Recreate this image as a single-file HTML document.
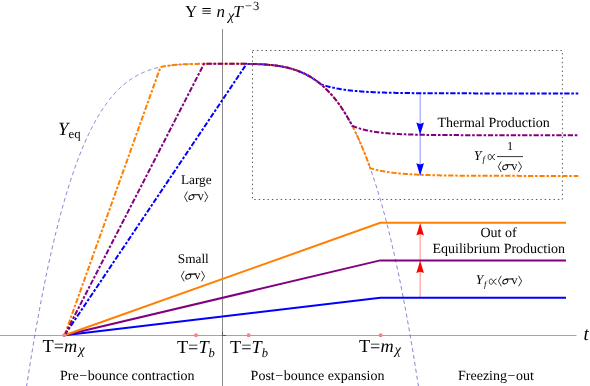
<!DOCTYPE html>
<html><head><meta charset="utf-8"><style>
html,body{margin:0;padding:0;background:#fff;}
svg{display:block;font-family:"Liberation Serif",serif;}
text{fill:#000;text-rendering:geometricPrecision;}
</style></head><body>
<svg width="590" height="386" viewBox="0 0 590 386">
<rect width="590" height="386" fill="#fff"/>
<line x1="0" y1="335.5" x2="576.5" y2="335.5" stroke="#a4a4a4" stroke-width="1"/>
<line x1="222.5" y1="29" x2="222.5" y2="386" stroke="#8c8c8c" stroke-width="1"/>
<path d="M222.5,332 V335.5 H226" fill="none" stroke="#555" stroke-width="1"/>
<path d="M26.50,387.00 L27.00,383.71 L27.50,380.45 L28.00,377.22 L28.50,374.01 L29.00,370.82 L29.50,367.66 L30.00,364.52 L30.50,361.41 L31.00,358.32 L31.50,355.26 L32.00,352.22 L32.50,349.20 L33.00,346.21 L33.50,343.24 L34.00,340.30 L34.50,337.37 L35.00,334.48 L35.50,331.60 L36.00,328.75 L36.50,325.92 L37.00,323.11 L37.50,320.33 L38.00,317.56 L38.50,314.82 L39.00,312.11 L39.50,309.41 L40.00,306.74 L40.50,304.09 L41.00,301.46 L41.50,298.85 L42.00,296.26 L42.50,293.70 L43.00,291.15 L43.50,288.63 L44.00,286.13 L44.50,283.65 L45.00,281.19 L45.50,278.75 L46.00,276.33 L46.50,273.93 L47.00,271.56 L47.50,269.20 L48.00,266.86 L48.50,264.54 L49.00,262.25 L49.50,259.97 L50.00,257.71 L50.50,255.47 L51.00,253.25 L51.50,251.05 L52.00,248.87 L52.50,246.71 L53.00,244.57 L53.50,242.45 L54.00,240.34 L54.50,238.25 L55.00,236.19 L55.50,234.14 L56.00,232.11 L56.50,230.09 L57.00,228.10 L57.50,226.12 L58.00,224.16 L58.50,222.22 L59.00,220.30 L59.50,218.39 L60.00,216.51 L60.50,214.64 L61.00,212.78 L61.50,210.95 L62.00,209.13 L62.50,207.32 L63.00,205.54 L63.50,203.77 L64.00,202.02 L64.50,200.28 L65.00,198.56 L65.50,196.86 L66.00,195.17 L66.50,193.50 L67.00,191.85 L67.50,190.21 L68.00,188.58 L68.50,186.98 L69.00,185.38 L69.50,183.81 L70.00,182.25 L70.50,180.70 L71.00,179.17 L71.50,177.65 L72.00,176.15 L72.50,174.67 L73.00,173.20 L73.50,171.74 L74.00,170.30 L74.50,168.87 L75.00,167.46 L75.50,166.06 L76.00,164.68 L76.50,163.31 L77.00,161.95 L77.50,160.61 L78.00,159.28 L78.50,157.97 L79.00,156.66 L79.50,155.38 L80.00,154.10 L80.50,152.84 L81.00,151.60 L81.50,150.36 L82.00,149.14 L82.50,147.93 L83.00,146.74 L83.50,145.55 L84.00,144.38 L84.50,143.23 L85.00,142.08 L85.50,140.95 L86.00,139.83 L86.50,138.72 L87.00,137.62 L87.50,136.54 L88.00,135.47 L88.50,134.41 L89.00,133.36 L89.50,132.33 L90.00,131.30 L90.50,130.29 L91.00,129.29 L91.50,128.30 L92.00,127.32 L92.50,126.35 L93.00,125.39 L93.50,124.45 L94.00,123.51 L94.50,122.59 L95.00,121.67 L95.50,120.77 L96.00,119.88 L96.50,119.00 L97.00,118.13 L97.50,117.27 L98.00,116.42 L98.50,115.58 L99.00,114.75 L99.50,113.93 L100.00,113.12 L100.50,112.32 L101.00,111.53 L101.50,110.74 L102.00,109.97 L102.50,109.21 L103.00,108.46 L103.50,107.72 L104.00,106.98 L104.50,106.26 L105.00,105.54 L105.50,104.84 L106.00,104.14 L106.50,103.45 L107.00,102.77 L107.50,102.10 L108.00,101.44 L108.50,100.79 L109.00,100.14 L109.50,99.51 L110.00,98.88 L110.50,98.26 L111.00,97.65 L111.50,97.05 L112.00,96.45 L112.50,95.86 L113.00,95.28 L113.50,94.71 L114.00,94.15 L114.50,93.59 L115.00,93.05 L115.50,92.51 L116.00,91.97 L116.50,91.45 L117.00,90.93 L117.50,90.42 L118.00,89.92 L118.50,89.42 L119.00,88.93 L119.50,88.45 L120.00,87.97 L120.50,87.51 L121.00,87.04 L121.50,86.59 L122.00,86.14 L122.50,85.70 L123.00,85.27 L123.50,84.84 L124.00,84.42 L124.50,84.00 L125.00,83.59 L125.50,83.19 L126.00,82.79 L126.50,82.40 L127.00,82.02 L127.50,81.64 L128.00,81.27 L128.50,80.90 L129.00,80.54 L129.50,80.18 L130.00,79.83 L130.50,79.49 L131.00,79.15 L131.50,78.82 L132.00,78.49 L132.50,78.17 L133.00,77.85 L133.50,77.54 L134.00,77.23 L134.50,76.93 L135.00,76.64 L135.50,76.35 L136.00,76.06 L136.50,75.78 L137.00,75.50 L137.50,75.23 L138.00,74.97 L138.50,74.70 L139.00,74.45 L139.50,74.19 L140.00,73.95 L140.50,73.70 L141.00,73.46 L141.50,73.23 L142.00,73.00 L142.50,72.77 L143.00,72.55 L143.50,72.33 L144.00,72.12 L144.50,71.91 L145.00,71.70 L145.50,71.50 L146.00,71.30 L146.50,71.11 L147.00,70.92 L147.50,70.73 L148.00,70.55 L148.50,70.37 L149.00,70.19 L149.50,70.02 L150.00,69.85 L150.50,69.69 L151.00,69.52 L151.50,69.37 L152.00,69.21 L152.50,69.06 L153.00,68.91 L153.50,68.76 L154.00,68.62 L154.50,68.48 L155.00,68.35 L155.50,68.21 L156.00,68.08 L156.50,67.96 L157.00,67.83 L157.50,67.71 L158.00,67.59 L158.50,67.47 L159.00,67.36 L159.50,67.25 L160.00,67.14 L160.50,67.04 L161.00,66.93 L161.50,66.83 L162.00,66.73 L162.50,66.64 L163.00,66.54 L163.50,66.45 L164.00,66.36 L164.50,66.28 L165.00,66.19 L165.50,66.11 L166.00,66.03 L166.50,65.95 L167.00,65.88 L167.50,65.80 L168.00,65.73 L168.50,65.66 L169.00,65.59 L169.50,65.53 L170.00,65.46 L170.50,65.40 L171.00,65.34 L171.50,65.28 L172.00,65.22 L172.50,65.17 L173.00,65.11 L173.50,65.06 L174.00,65.01 L174.50,64.96 L175.00,64.91 L175.50,64.87 L176.00,64.82 L176.50,64.78 L177.00,64.74 L177.50,64.70 L178.00,64.66 L178.50,64.62 L179.00,64.58 L179.50,64.55 L180.00,64.51 L180.50,64.48 L181.00,64.45 L181.50,64.42 L182.00,64.39 L182.50,64.36 L183.00,64.33 L183.50,64.31 L184.00,64.28 L184.50,64.26 L185.00,64.23 L185.50,64.21 L186.00,64.19 L186.50,64.17 L187.00,64.15 L187.50,64.13 L188.00,64.11 L188.50,64.09 L189.00,64.08 L189.50,64.06 L190.00,64.04 L190.50,64.03 L191.00,64.02 L191.50,64.00 L192.00,63.99 L192.50,63.98 L193.00,63.97 L193.50,63.95 L194.00,63.94 L194.50,63.93 L195.00,63.93 L195.50,63.92 L196.00,63.91 L196.50,63.90 L197.00,63.89 L197.50,63.89 L198.00,63.88 L198.50,63.87 L199.00,63.87 L199.50,63.86 L200.00,63.86 L200.50,63.85 L201.00,63.85 L201.50,63.84 L202.00,63.84 L202.50,63.84 L203.00,63.83 L203.50,63.83 L204.00,63.83 L204.50,63.82 L205.00,63.82 L205.50,63.82 L206.00,63.82 L206.50,63.81 L207.00,63.81 L207.50,63.81 L208.00,63.81 L208.50,63.81 L209.00,63.81 L209.50,63.81 L210.00,63.81 L210.50,63.80 L211.00,63.80 L211.50,63.80 L212.00,63.80 L212.50,63.80 L213.00,63.80 L213.50,63.80 L214.00,63.80 L214.50,63.80 L215.00,63.80 L215.50,63.80 L216.00,63.80 L216.50,63.80 L217.00,63.80 L217.50,63.80 L218.00,63.80 L218.50,63.80 L219.00,63.80 L219.50,63.80 L220.00,63.80 L220.50,63.80 L221.00,63.80 L221.50,63.80 L222.00,63.80 L222.50,63.80 L223.00,63.80 L223.50,63.80 L224.00,63.80 L224.50,63.80 L225.00,63.80 L225.50,63.80 L226.00,63.80 L226.50,63.80 L227.00,63.80 L227.50,63.80 L228.00,63.80 L228.50,63.80 L229.00,63.80 L229.50,63.80 L230.00,63.80 L230.50,63.80 L231.00,63.80 L231.50,63.80 L232.00,63.80 L232.50,63.80 L233.00,63.80 L233.50,63.80 L234.00,63.80 L234.50,63.80 L235.00,63.81 L235.50,63.81 L236.00,63.81 L236.50,63.81 L237.00,63.81 L237.50,63.81 L238.00,63.81 L238.50,63.81 L239.00,63.82 L239.50,63.82 L240.00,63.82 L240.50,63.82 L241.00,63.83 L241.50,63.83 L242.00,63.83 L242.50,63.84 L243.00,63.84 L243.50,63.84 L244.00,63.85 L244.50,63.85 L245.00,63.86 L245.50,63.86 L246.00,63.87 L246.50,63.87 L247.00,63.88 L247.50,63.89 L248.00,63.89 L248.50,63.90 L249.00,63.91 L249.50,63.92 L250.00,63.93 L250.50,63.93 L251.00,63.94 L251.50,63.95 L252.00,63.97 L252.50,63.98 L253.00,63.99 L253.50,64.00 L254.00,64.02 L254.50,64.03 L255.00,64.04 L255.50,64.06 L256.00,64.08 L256.50,64.09 L257.00,64.11 L257.50,64.13 L258.00,64.15 L258.50,64.17 L259.00,64.19 L259.50,64.21 L260.00,64.23 L260.50,64.26 L261.00,64.28 L261.50,64.31 L262.00,64.33 L262.50,64.36 L263.00,64.39 L263.50,64.42 L264.00,64.45 L264.50,64.48 L265.00,64.51 L265.50,64.55 L266.00,64.58 L266.50,64.62 L267.00,64.66 L267.50,64.70 L268.00,64.74 L268.50,64.78 L269.00,64.82 L269.50,64.87 L270.00,64.91 L270.50,64.96 L271.00,65.01 L271.50,65.06 L272.00,65.11 L272.50,65.17 L273.00,65.22 L273.50,65.28 L274.00,65.34 L274.50,65.40 L275.00,65.46 L275.50,65.53 L276.00,65.59 L276.50,65.66 L277.00,65.73 L277.50,65.80 L278.00,65.88 L278.50,65.95 L279.00,66.03 L279.50,66.11 L280.00,66.19 L280.50,66.28 L281.00,66.36 L281.50,66.45 L282.00,66.54 L282.50,66.64 L283.00,66.73 L283.50,66.83 L284.00,66.93 L284.50,67.04 L285.00,67.14 L285.50,67.25 L286.00,67.36 L286.50,67.47 L287.00,67.59 L287.50,67.71 L288.00,67.83 L288.50,67.96 L289.00,68.08 L289.50,68.21 L290.00,68.35 L290.50,68.48 L291.00,68.62 L291.50,68.76 L292.00,68.91 L292.50,69.06 L293.00,69.21 L293.50,69.37 L294.00,69.52 L294.50,69.69 L295.00,69.85 L295.50,70.02 L296.00,70.19 L296.50,70.37 L297.00,70.55 L297.50,70.73 L298.00,70.92 L298.50,71.11 L299.00,71.30 L299.50,71.50 L300.00,71.70 L300.50,71.91 L301.00,72.12 L301.50,72.33 L302.00,72.55 L302.50,72.77 L303.00,73.00 L303.50,73.23 L304.00,73.46 L304.50,73.70 L305.00,73.95 L305.50,74.19 L306.00,74.45 L306.50,74.70 L307.00,74.97 L307.50,75.23 L308.00,75.50 L308.50,75.78 L309.00,76.06 L309.50,76.35 L310.00,76.64 L310.50,76.93 L311.00,77.23 L311.50,77.54 L312.00,77.85 L312.50,78.17 L313.00,78.49 L313.50,78.82 L314.00,79.15 L314.50,79.49 L315.00,79.83 L315.50,80.18 L316.00,80.54 L316.50,80.90 L317.00,81.27 L317.50,81.64 L318.00,82.02 L318.50,82.40 L319.00,82.79 L319.50,83.19 L320.00,83.59 L320.50,84.00 L321.00,84.42 L321.50,84.84 L322.00,85.27 L322.50,85.70 L323.00,86.14 L323.50,86.59 L324.00,87.04 L324.50,87.51 L325.00,87.97 L325.50,88.45 L326.00,88.93 L326.50,89.42 L327.00,89.92 L327.50,90.42 L328.00,90.93 L328.50,91.45 L329.00,91.97 L329.50,92.51 L330.00,93.05 L330.50,93.59 L331.00,94.15 L331.50,94.71 L332.00,95.28 L332.50,95.86 L333.00,96.45 L333.50,97.05 L334.00,97.65 L334.50,98.26 L335.00,98.88 L335.50,99.51 L336.00,100.14 L336.50,100.79 L337.00,101.44 L337.50,102.10 L338.00,102.77 L338.50,103.45 L339.00,104.14 L339.50,104.84 L340.00,105.54 L340.50,106.26 L341.00,106.98 L341.50,107.72 L342.00,108.46 L342.50,109.21 L343.00,109.97 L343.50,110.74 L344.00,111.53 L344.50,112.32 L345.00,113.12 L345.50,113.93 L346.00,114.75 L346.50,115.58 L347.00,116.42 L347.50,117.27 L348.00,118.13 L348.50,119.00 L349.00,119.88 L349.50,120.77 L350.00,121.67 L350.50,122.59 L351.00,123.51 L351.50,124.45 L352.00,125.39 L352.50,126.35 L353.00,127.32 L353.50,128.30 L354.00,129.29 L354.50,130.29 L355.00,131.30 L355.50,132.33 L356.00,133.36 L356.50,134.41 L357.00,135.47 L357.50,136.54 L358.00,137.62 L358.50,138.72 L359.00,139.83 L359.50,140.95 L360.00,142.08 L360.50,143.23 L361.00,144.38 L361.50,145.55 L362.00,146.74 L362.50,147.93 L363.00,149.14 L363.50,150.36 L364.00,151.60 L364.50,152.84 L365.00,154.10 L365.50,155.38 L366.00,156.66 L366.50,157.97 L367.00,159.28 L367.50,160.61 L368.00,161.95 L368.50,163.31 L369.00,164.68 L369.50,166.06 L370.00,167.46 L370.50,168.87 L371.00,170.30 L371.50,171.74 L372.00,173.20 L372.50,174.67 L373.00,176.15 L373.50,177.65 L374.00,179.17 L374.50,180.70 L375.00,182.25 L375.50,183.81 L376.00,185.38 L376.50,186.98 L377.00,188.58 L377.50,190.21 L378.00,191.85 L378.50,193.50 L379.00,195.17 L379.50,196.86 L380.00,198.56 L380.50,200.28 L381.00,202.02 L381.50,203.77 L382.00,205.54 L382.50,207.32 L383.00,209.13 L383.50,210.95 L384.00,212.78 L384.50,214.64 L385.00,216.51 L385.50,218.39 L386.00,220.30 L386.50,222.22 L387.00,224.16 L387.50,226.12 L388.00,228.10 L388.50,230.09 L389.00,232.11 L389.50,234.14 L390.00,236.19 L390.50,238.25 L391.00,240.34 L391.50,242.45 L392.00,244.57 L392.50,246.71 L393.00,248.87 L393.50,251.05 L394.00,253.25 L394.50,255.47 L395.00,257.71 L395.50,259.97 L396.00,262.25 L396.50,264.54 L397.00,266.86 L397.50,269.20 L398.00,271.56 L398.50,273.93 L399.00,276.33 L399.50,278.75 L400.00,281.19 L400.50,283.65 L401.00,286.13 L401.50,288.63 L402.00,291.15 L402.50,293.70 L403.00,296.26 L403.50,298.85 L404.00,301.46 L404.50,304.09 L405.00,306.74 L405.50,309.41 L406.00,312.11 L406.50,314.82 L407.00,317.56 L407.50,320.33 L408.00,323.11 L408.50,325.92 L409.00,328.75 L409.50,331.60 L410.00,334.48 L410.50,337.37 L411.00,340.30 L411.50,343.24 L412.00,346.21 L412.50,349.20 L413.00,352.22 L413.50,355.26 L414.00,358.32 L414.50,361.41 L415.00,364.52 L415.50,367.66 L416.00,370.82 L416.50,374.01 L417.00,377.22 L417.50,380.45 L418.00,383.71 L418.50,387.00" fill="none" stroke="#6c6cc4" stroke-width="0.85" stroke-dasharray="4 3"/>
<path d="M252.5,50.5 H562.4 V199.5 H252.5 Z" fill="none" stroke="#222" stroke-width="0.75" stroke-dasharray="1.4 3.0"/>
<line x1="420.15" y1="93.4" x2="420.15" y2="175.9" stroke="#0000ff" stroke-width="0.45"/>
<line x1="420.15" y1="222.8" x2="420.15" y2="297.9" stroke="#ff0000" stroke-width="0.45"/>
<path d="M64.5,335.3 L380.4,297.8 L566,297.8" fill="none" stroke="#0000ff" stroke-width="2"/>
<path d="M64.5,335.3 L380.2,260.4 L566,260.4" fill="none" stroke="#800080" stroke-width="2"/>
<path d="M64.5,335.3 L380.2,222.8 L566,222.8" fill="none" stroke="#ff8000" stroke-width="2"/>
<g fill="none" stroke-width="2" stroke-dasharray="5.3 1.75 2.6 1.75">
<path d="M64.50,335.30 L246.60,63.87 L247.60,63.89 L248.60,63.90 L249.60,63.92 L250.60,63.94 L251.60,63.96 L252.60,63.98 L253.60,64.00 L254.60,64.03 L255.60,64.06 L256.60,64.10 L257.60,64.13 L258.60,64.17 L259.60,64.21 L260.60,64.26 L261.60,64.31 L262.60,64.37 L263.60,64.42 L264.60,64.49 L265.60,64.56 L266.60,64.63 L267.60,64.71 L268.60,64.79 L269.60,64.88 L270.60,64.97 L271.60,65.07 L272.60,65.18 L273.60,65.29 L274.60,65.41 L275.60,65.54 L276.60,65.68 L277.60,65.82 L278.60,65.97 L279.60,66.13 L280.60,66.30 L281.60,66.47 L282.60,66.66 L283.60,66.85 L284.60,67.06 L285.60,67.27 L286.60,67.50 L287.60,67.73 L288.60,67.98 L289.60,68.24 L290.60,68.51 L291.60,68.79 L292.60,69.09 L293.60,69.40 L294.60,69.72 L295.60,70.05 L296.60,70.40 L297.60,70.77 L298.60,71.14 L299.60,71.54 L300.60,71.95 L301.60,72.37 L302.60,72.82 L303.60,73.27 L304.60,73.75 L305.60,74.24 L306.60,74.76 L307.60,75.29 L308.60,75.84 L309.60,76.40 L310.60,76.99 L311.60,77.60 L312.60,78.23 L313.60,78.88 L314.60,79.56 L315.60,80.25 L316.60,80.97 L317.60,81.71 L318.60,82.48 L319.60,83.27 L320.60,84.08 L320.80,84.25 L321.80,84.59 L322.80,84.93 L323.80,85.25 L324.80,85.55 L325.80,85.85 L326.80,86.13 L327.80,86.41 L328.80,86.67 L329.80,86.93 L330.80,87.17 L331.80,87.41 L332.80,87.63 L333.80,87.85 L334.80,88.06 L335.80,88.26 L336.80,88.45 L337.80,88.64 L338.80,88.82 L339.80,88.99 L340.80,89.16 L341.80,89.32 L342.80,89.47 L343.80,89.62 L344.80,89.76 L345.80,89.90 L346.80,90.03 L347.80,90.16 L348.80,90.28 L349.80,90.40 L350.80,90.51 L351.80,90.62 L352.80,90.73 L353.80,90.83 L354.80,90.92 L355.80,91.02 L356.80,91.11 L357.80,91.19 L358.80,91.28 L359.80,91.36 L360.80,91.44 L361.80,91.51 L362.80,91.58 L363.80,91.65 L364.80,91.72 L365.80,91.78 L366.80,91.84 L367.80,91.90 L368.80,91.96 L369.80,92.01 L370.80,92.06 L371.80,92.11 L372.80,92.16 L373.80,92.21 L374.80,92.25 L375.80,92.30 L376.80,92.34 L377.80,92.38 L378.80,92.42 L379.80,92.45 L380.80,92.49 L381.80,92.52 L382.80,92.56 L383.80,92.59 L384.80,92.62 L385.80,92.65 L386.80,92.68 L387.80,92.70 L388.80,92.73 L389.80,92.76 L390.80,92.78 L391.80,92.80 L392.80,92.83 L393.80,92.85 L394.80,92.87 L395.80,92.89 L396.80,92.91 L397.80,92.93 L398.80,92.94 L399.80,92.96 L400.80,92.98 L401.80,92.99 L402.80,93.01 L403.80,93.02 L404.80,93.04 L405.80,93.05 L406.80,93.07 L407.80,93.08 L408.80,93.09 L409.80,93.10 L410.80,93.11 L411.80,93.12 L412.80,93.13 L413.80,93.14 L414.80,93.15 L415.80,93.16 L416.80,93.17 L417.80,93.18 L418.80,93.19 L419.80,93.20 L420.80,93.20 L421.80,93.21 L422.80,93.22 L423.80,93.23 L424.80,93.23 L425.80,93.24 L426.80,93.24 L427.80,93.25 L428.80,93.26 L429.80,93.26 L430.80,93.27 L431.80,93.27 L432.80,93.28 L433.80,93.28 L434.80,93.29 L435.80,93.29 L436.80,93.29 L437.80,93.30 L438.80,93.30 L439.80,93.31 L440.80,93.31 L441.80,93.31 L442.80,93.32 L443.80,93.32 L444.80,93.32 L445.80,93.33 L446.80,93.33 L447.80,93.33 L448.80,93.33 L449.80,93.34 L450.80,93.34 L451.80,93.34 L452.80,93.34 L453.80,93.35 L454.80,93.35 L455.80,93.35 L456.80,93.35 L457.80,93.35 L458.80,93.35 L459.80,93.36 L460.80,93.36 L461.80,93.36 L462.80,93.36 L463.80,93.36 L464.80,93.36 L465.80,93.37 L466.80,93.37 L467.80,93.37 L468.80,93.37 L469.80,93.37 L470.80,93.37 L471.80,93.37 L472.80,93.37 L473.80,93.37 L474.80,93.38 L475.80,93.38 L476.80,93.38 L477.80,93.38 L478.80,93.38 L479.80,93.38 L480.80,93.38 L481.80,93.38 L482.80,93.38 L483.80,93.38 L484.80,93.38 L485.80,93.38 L486.80,93.38 L487.80,93.39 L488.80,93.39 L489.80,93.39 L490.80,93.39 L491.80,93.39 L492.80,93.39 L493.80,93.39 L494.80,93.39 L495.80,93.39 L496.80,93.39 L497.80,93.39 L498.80,93.39 L499.80,93.39 L500.80,93.39 L501.80,93.39 L502.80,93.39 L503.80,93.39 L504.80,93.39 L505.80,93.39 L506.80,93.39 L507.80,93.39 L508.80,93.39 L509.80,93.39 L510.80,93.39 L511.80,93.39 L512.80,93.39 L513.80,93.39 L514.80,93.39 L515.80,93.39 L516.80,93.40 L517.80,93.40 L518.80,93.40 L519.80,93.40 L520.80,93.40 L521.80,93.40 L522.80,93.40 L523.80,93.40 L524.80,93.40 L525.80,93.40 L526.80,93.40 L527.80,93.40 L528.80,93.40 L529.80,93.40 L530.80,93.40 L531.80,93.40 L532.80,93.40 L533.80,93.40 L534.80,93.40 L535.80,93.40 L536.80,93.40 L537.80,93.40 L538.80,93.40 L539.80,93.40 L540.80,93.40 L541.80,93.40 L542.80,93.40 L543.80,93.40 L544.80,93.40 L545.80,93.40 L546.80,93.40 L547.80,93.40 L548.80,93.40 L549.80,93.40 L550.80,93.40 L551.80,93.40 L552.80,93.40 L553.80,93.40 L554.80,93.40 L555.80,93.40 L556.80,93.40 L557.80,93.40 L558.80,93.40 L559.80,93.40 L560.80,93.40 L561.80,93.40 L562.80,93.40 L563.80,93.40 L564.80,93.40 L565.80,93.40 L566.80,93.40 L567.80,93.40 L568.80,93.40 L569.80,93.40 L570.80,93.40 L571.80,93.40 L572.80,93.40 L573.80,93.40 L574.80,93.40 L575.80,93.40 L576.80,93.40 L577.80,93.40 L578.30,93.40" stroke="#0000ff"/>
<path d="M64.50,335.30 L160.50,67.04 L161.50,66.83 L162.50,66.64 L163.50,66.45 L164.50,66.28 L165.50,66.11 L166.50,65.95 L167.50,65.80 L168.50,65.66 L169.50,65.53 L170.50,65.40 L171.50,65.28 L172.50,65.17 L173.50,65.06 L174.50,64.96 L175.50,64.87 L176.50,64.78 L177.50,64.70 L178.50,64.62 L179.50,64.55 L180.50,64.48 L181.50,64.42 L182.50,64.36 L183.50,64.31 L184.50,64.26 L185.50,64.21 L186.50,64.17 L187.50,64.13 L188.50,64.09 L189.50,64.06 L190.50,64.03 L191.50,64.00 L192.50,63.98 L193.50,63.95 L194.50,63.93 L195.50,63.92 L196.50,63.90 L197.50,63.89 L198.50,63.87 L199.50,63.86 L200.50,63.85 L201.50,63.84 L202.50,63.84 L203.50,63.83 L204.50,63.82 L205.50,63.82 L206.50,63.81 L207.50,63.81 L208.50,63.81 L209.50,63.81 L210.50,63.80 L211.50,63.80 L212.50,63.80 L213.50,63.80 L214.50,63.80 L215.50,63.80 L216.50,63.80 L217.50,63.80 L218.50,63.80 L219.50,63.80 L220.50,63.80 L221.50,63.80 L222.50,63.80 L223.50,63.80 L224.50,63.80 L225.50,63.80 L226.50,63.80 L227.50,63.80 L228.50,63.80 L229.50,63.80 L230.50,63.80 L231.50,63.80 L232.50,63.80 L233.50,63.80 L234.50,63.80 L235.50,63.81 L236.50,63.81 L237.50,63.81 L238.50,63.81 L239.50,63.82 L240.50,63.82 L241.50,63.83 L242.50,63.84 L243.50,63.84 L244.50,63.85 L245.50,63.86 L246.50,63.87 L247.50,63.89 L248.50,63.90 L249.50,63.92 L250.50,63.93 L251.50,63.95 L252.50,63.98 L253.50,64.00 L254.50,64.03 L255.50,64.06 L256.50,64.09 L257.50,64.13 L258.50,64.17 L259.50,64.21 L260.50,64.26 L261.50,64.31 L262.50,64.36 L263.50,64.42 L264.50,64.48 L265.50,64.55 L266.50,64.62 L267.50,64.70 L268.50,64.78 L269.50,64.87 L270.50,64.96 L271.50,65.06 L272.50,65.17 L273.50,65.28 L274.50,65.40 L275.50,65.53 L276.50,65.66 L277.50,65.80 L278.50,65.95 L279.50,66.11 L280.50,66.28 L281.50,66.45 L282.50,66.64 L283.50,66.83 L284.50,67.04 L285.50,67.25 L286.50,67.47 L287.50,67.71 L288.50,67.96 L289.50,68.21 L290.50,68.48 L291.50,68.76 L292.50,69.06 L293.50,69.37 L294.50,69.69 L295.50,70.02 L296.50,70.37 L297.50,70.73 L298.50,71.11 L299.50,71.50 L300.50,71.91 L301.50,72.33 L302.50,72.77 L303.50,73.23 L304.50,73.70 L305.50,74.19 L306.50,74.70 L307.50,75.23 L308.50,75.78 L309.50,76.35 L310.50,76.93 L311.50,77.54 L312.50,78.17 L313.50,78.82 L314.50,79.49 L315.50,80.18 L316.50,80.90 L317.50,81.64 L318.50,82.40 L319.50,83.19 L320.50,84.00 L321.50,84.84 L322.50,85.70 L323.50,86.59 L324.50,87.51 L325.50,88.45 L326.50,89.42 L327.50,90.42 L328.50,91.45 L329.50,92.51 L330.50,93.59 L331.50,94.71 L332.50,95.86 L333.50,97.05 L334.50,98.26 L335.50,99.51 L336.50,100.79 L337.50,102.10 L338.50,103.45 L339.50,104.84 L340.50,106.26 L341.50,107.72 L342.50,109.21 L343.50,110.74 L344.50,112.32 L345.50,113.93 L346.50,115.58 L347.50,117.27 L348.50,119.00 L349.50,120.77 L350.50,122.59 L351.50,124.45 L352.50,126.35 L353.50,128.30 L354.50,130.29 L355.50,132.33 L356.50,134.41 L357.50,136.54 L358.50,138.72 L359.50,140.95 L360.50,143.23 L361.50,145.55 L362.50,147.93 L363.50,150.36 L364.50,152.84 L365.50,155.38 L366.50,157.97 L367.50,160.61 L368.50,163.31 L369.50,166.06 L370.30,168.31 L371.30,168.59 L372.30,168.87 L373.30,169.13 L374.30,169.39 L375.30,169.63 L376.30,169.87 L377.30,170.10 L378.30,170.32 L379.30,170.53 L380.30,170.73 L381.30,170.93 L382.30,171.11 L383.30,171.29 L384.30,171.47 L385.30,171.64 L386.30,171.80 L387.30,171.95 L388.30,172.10 L389.30,172.24 L390.30,172.38 L391.30,172.51 L392.30,172.64 L393.30,172.76 L394.30,172.88 L395.30,173.00 L396.30,173.11 L397.30,173.21 L398.30,173.31 L399.30,173.41 L400.30,173.50 L401.30,173.60 L402.30,173.68 L403.30,173.77 L404.30,173.85 L405.30,173.92 L406.30,174.00 L407.30,174.07 L408.30,174.14 L409.30,174.21 L410.30,174.27 L411.30,174.33 L412.30,174.39 L413.30,174.45 L414.30,174.50 L415.30,174.55 L416.30,174.61 L417.30,174.65 L418.30,174.70 L419.30,174.75 L420.30,174.79 L421.30,174.83 L422.30,174.87 L423.30,174.91 L424.30,174.95 L425.30,174.98 L426.30,175.02 L427.30,175.05 L428.30,175.08 L429.30,175.11 L430.30,175.14 L431.30,175.17 L432.30,175.20 L433.30,175.23 L434.30,175.25 L435.30,175.28 L436.30,175.30 L437.30,175.32 L438.30,175.34 L439.30,175.37 L440.30,175.39 L441.30,175.41 L442.30,175.42 L443.30,175.44 L444.30,175.46 L445.30,175.48 L446.30,175.49 L447.30,175.51 L448.30,175.52 L449.30,175.54 L450.30,175.55 L451.30,175.56 L452.30,175.58 L453.30,175.59 L454.30,175.60 L455.30,175.61 L456.30,175.62 L457.30,175.63 L458.30,175.64 L459.30,175.65 L460.30,175.66 L461.30,175.67 L462.30,175.68 L463.30,175.69 L464.30,175.70 L465.30,175.70 L466.30,175.71 L467.30,175.72 L468.30,175.72 L469.30,175.73 L470.30,175.74 L471.30,175.74 L472.30,175.75 L473.30,175.76 L474.30,175.76 L475.30,175.77 L476.30,175.77 L477.30,175.78 L478.30,175.78 L479.30,175.79 L480.30,175.79 L481.30,175.79 L482.30,175.80 L483.30,175.80 L484.30,175.81 L485.30,175.81 L486.30,175.81 L487.30,175.82 L488.30,175.82 L489.30,175.82 L490.30,175.82 L491.30,175.83 L492.30,175.83 L493.30,175.83 L494.30,175.84 L495.30,175.84 L496.30,175.84 L497.30,175.84 L498.30,175.84 L499.30,175.85 L500.30,175.85 L501.30,175.85 L502.30,175.85 L503.30,175.85 L504.30,175.86 L505.30,175.86 L506.30,175.86 L507.30,175.86 L508.30,175.86 L509.30,175.86 L510.30,175.87 L511.30,175.87 L512.30,175.87 L513.30,175.87 L514.30,175.87 L515.30,175.87 L516.30,175.87 L517.30,175.87 L518.30,175.87 L519.30,175.88 L520.30,175.88 L521.30,175.88 L522.30,175.88 L523.30,175.88 L524.30,175.88 L525.30,175.88 L526.30,175.88 L527.30,175.88 L528.30,175.88 L529.30,175.88 L530.30,175.88 L531.30,175.88 L532.30,175.89 L533.30,175.89 L534.30,175.89 L535.30,175.89 L536.30,175.89 L537.30,175.89 L538.30,175.89 L539.30,175.89 L540.30,175.89 L541.30,175.89 L542.30,175.89 L543.30,175.89 L544.30,175.89 L545.30,175.89 L546.30,175.89 L547.30,175.89 L548.30,175.89 L549.30,175.89 L550.30,175.89 L551.30,175.89 L552.30,175.89 L553.30,175.89 L554.30,175.89 L555.30,175.89 L556.30,175.89 L557.30,175.89 L558.30,175.89 L559.30,175.89 L560.30,175.89 L561.30,175.90 L562.30,175.90 L563.30,175.90 L564.30,175.90 L565.30,175.90 L566.30,175.90 L567.30,175.90 L568.30,175.90 L569.30,175.90 L570.30,175.90 L571.30,175.90 L572.30,175.90 L573.30,175.90 L574.30,175.90 L575.30,175.90 L576.30,175.90 L577.30,175.90 L578.30,175.90" stroke="#ff8000"/>
<path d="M64.50,335.30 L204.00,63.83 L205.00,63.82 L206.00,63.82 L207.00,63.81 L208.00,63.81 L209.00,63.81 L210.00,63.81 L211.00,63.80 L212.00,63.80 L213.00,63.80 L214.00,63.80 L215.00,63.80 L216.00,63.80 L217.00,63.80 L218.00,63.80 L219.00,63.80 L220.00,63.80 L221.00,63.80 L222.00,63.80 L223.00,63.80 L224.00,63.80 L225.00,63.80 L226.00,63.80 L227.00,63.80 L228.00,63.80 L229.00,63.80 L230.00,63.80 L231.00,63.80 L232.00,63.80 L233.00,63.80 L234.00,63.80 L235.00,63.81 L236.00,63.81 L237.00,63.81 L238.00,63.81 L239.00,63.82 L240.00,63.82 L241.00,63.83 L242.00,63.83 L243.00,63.84 L244.00,63.85 L245.00,63.86 L246.00,63.87 L247.00,63.88 L248.00,63.89 L249.00,63.91 L250.00,63.93 L251.00,63.94 L252.00,63.97 L253.00,63.99 L254.00,64.02 L255.00,64.04 L256.00,64.08 L257.00,64.11 L258.00,64.15 L259.00,64.19 L260.00,64.23 L261.00,64.28 L262.00,64.33 L263.00,64.39 L264.00,64.45 L265.00,64.51 L266.00,64.58 L267.00,64.66 L268.00,64.74 L269.00,64.82 L270.00,64.91 L271.00,65.01 L272.00,65.11 L273.00,65.22 L274.00,65.34 L275.00,65.46 L276.00,65.59 L277.00,65.73 L278.00,65.88 L279.00,66.03 L280.00,66.19 L281.00,66.36 L282.00,66.54 L283.00,66.73 L284.00,66.93 L285.00,67.14 L286.00,67.36 L287.00,67.59 L288.00,67.83 L289.00,68.08 L290.00,68.35 L291.00,68.62 L292.00,68.91 L293.00,69.21 L294.00,69.52 L295.00,69.85 L296.00,70.19 L297.00,70.55 L298.00,70.92 L299.00,71.30 L300.00,71.70 L301.00,72.12 L302.00,72.55 L303.00,73.00 L304.00,73.46 L305.00,73.95 L306.00,74.45 L307.00,74.97 L308.00,75.50 L309.00,76.06 L310.00,76.64 L311.00,77.23 L312.00,77.85 L313.00,78.49 L314.00,79.15 L315.00,79.83 L316.00,80.54 L317.00,81.27 L318.00,82.02 L319.00,82.79 L320.00,83.59 L321.00,84.42 L322.00,85.27 L323.00,86.14 L324.00,87.04 L325.00,87.97 L326.00,88.93 L327.00,89.92 L328.00,90.93 L329.00,91.97 L330.00,93.05 L331.00,94.15 L332.00,95.28 L333.00,96.45 L334.00,97.65 L335.00,98.88 L336.00,100.14 L337.00,101.44 L338.00,102.77 L339.00,104.14 L340.00,105.54 L341.00,106.98 L342.00,108.46 L343.00,109.97 L344.00,111.53 L345.00,113.12 L346.00,114.75 L347.00,116.42 L348.00,118.13 L349.00,119.88 L350.00,121.67 L351.00,123.51 L352.00,125.39 L352.20,125.77 L353.20,126.19 L354.20,126.59 L355.20,126.97 L356.20,127.34 L357.20,127.69 L358.20,128.02 L359.20,128.34 L360.20,128.65 L361.20,128.94 L362.20,129.22 L363.20,129.48 L364.20,129.74 L365.20,129.98 L366.20,130.21 L367.20,130.43 L368.20,130.64 L369.20,130.85 L370.20,131.04 L371.20,131.23 L372.20,131.40 L373.20,131.57 L374.20,131.73 L375.20,131.89 L376.20,132.03 L377.20,132.17 L378.20,132.31 L379.20,132.44 L380.20,132.56 L381.20,132.68 L382.20,132.79 L383.20,132.90 L384.20,133.00 L385.20,133.10 L386.20,133.19 L387.20,133.28 L388.20,133.36 L389.20,133.45 L390.20,133.52 L391.20,133.60 L392.20,133.67 L393.20,133.74 L394.20,133.80 L395.20,133.86 L396.20,133.92 L397.20,133.98 L398.20,134.04 L399.20,134.09 L400.20,134.14 L401.20,134.18 L402.20,134.23 L403.20,134.27 L404.20,134.31 L405.20,134.35 L406.20,134.39 L407.20,134.43 L408.20,134.46 L409.20,134.49 L410.20,134.52 L411.20,134.55 L412.20,134.58 L413.20,134.61 L414.20,134.64 L415.20,134.66 L416.20,134.69 L417.20,134.71 L418.20,134.73 L419.20,134.75 L420.20,134.77 L421.20,134.79 L422.20,134.81 L423.20,134.83 L424.20,134.84 L425.20,134.86 L426.20,134.87 L427.20,134.89 L428.20,134.90 L429.20,134.92 L430.20,134.93 L431.20,134.94 L432.20,134.95 L433.20,134.96 L434.20,134.97 L435.20,134.98 L436.20,134.99 L437.20,135.00 L438.20,135.01 L439.20,135.02 L440.20,135.03 L441.20,135.04 L442.20,135.04 L443.20,135.05 L444.20,135.06 L445.20,135.06 L446.20,135.07 L447.20,135.07 L448.20,135.08 L449.20,135.09 L450.20,135.09 L451.20,135.10 L452.20,135.10 L453.20,135.10 L454.20,135.11 L455.20,135.11 L456.20,135.12 L457.20,135.12 L458.20,135.12 L459.20,135.13 L460.20,135.13 L461.20,135.13 L462.20,135.14 L463.20,135.14 L464.20,135.14 L465.20,135.14 L466.20,135.15 L467.20,135.15 L468.20,135.15 L469.20,135.15 L470.20,135.16 L471.20,135.16 L472.20,135.16 L473.20,135.16 L474.20,135.16 L475.20,135.16 L476.20,135.17 L477.20,135.17 L478.20,135.17 L479.20,135.17 L480.20,135.17 L481.20,135.17 L482.20,135.17 L483.20,135.18 L484.20,135.18 L485.20,135.18 L486.20,135.18 L487.20,135.18 L488.20,135.18 L489.20,135.18 L490.20,135.18 L491.20,135.18 L492.20,135.18 L493.20,135.18 L494.20,135.19 L495.20,135.19 L496.20,135.19 L497.20,135.19 L498.20,135.19 L499.20,135.19 L500.20,135.19 L501.20,135.19 L502.20,135.19 L503.20,135.19 L504.20,135.19 L505.20,135.19 L506.20,135.19 L507.20,135.19 L508.20,135.19 L509.20,135.19 L510.20,135.19 L511.20,135.19 L512.20,135.19 L513.20,135.19 L514.20,135.19 L515.20,135.19 L516.20,135.19 L517.20,135.19 L518.20,135.20 L519.20,135.20 L520.20,135.20 L521.20,135.20 L522.20,135.20 L523.20,135.20 L524.20,135.20 L525.20,135.20 L526.20,135.20 L527.20,135.20 L528.20,135.20 L529.20,135.20 L530.20,135.20 L531.20,135.20 L532.20,135.20 L533.20,135.20 L534.20,135.20 L535.20,135.20 L536.20,135.20 L537.20,135.20 L538.20,135.20 L539.20,135.20 L540.20,135.20 L541.20,135.20 L542.20,135.20 L543.20,135.20 L544.20,135.20 L545.20,135.20 L546.20,135.20 L547.20,135.20 L548.20,135.20 L549.20,135.20 L550.20,135.20 L551.20,135.20 L552.20,135.20 L553.20,135.20 L554.20,135.20 L555.20,135.20 L556.20,135.20 L557.20,135.20 L558.20,135.20 L559.20,135.20 L560.20,135.20 L561.20,135.20 L562.20,135.20 L563.20,135.20 L564.20,135.20 L565.20,135.20 L566.20,135.20 L567.20,135.20 L568.20,135.20 L569.20,135.20 L570.20,135.20 L571.20,135.20 L572.20,135.20 L573.20,135.20 L574.20,135.20 L575.20,135.20 L576.20,135.20 L577.20,135.20 L578.20,135.20 L578.30,135.20" stroke="#800080"/>
</g>
<circle cx="64.2" cy="335.3" r="2" fill="#ff8080"/>
<circle cx="196" cy="335.3" r="2" fill="#ff8080"/>
<circle cx="248.7" cy="335.3" r="2" fill="#ff8080"/>
<circle cx="380.6" cy="335.3" r="2" fill="#ff8080"/>
<path d="M420.15,134.8 L416.34999999999997,122.60000000000001 L420.15,123.9 L423.95,122.60000000000001 Z" fill="#0000ff"/>
<path d="M420.15,175.5 L416.34999999999997,163.3 L420.15,164.6 L423.95,163.3 Z" fill="#0000ff"/>
<path d="M420.15,223.2 L416.34999999999997,235.39999999999998 L420.15,234.1 L423.95,235.39999999999998 Z" fill="#ff0000"/>
<path d="M420.15,260.8 L416.34999999999997,273.0 L420.15,271.7 L423.95,273.0 Z" fill="#ff0000"/>
<g opacity="0.999">
<text x="185.10" y="16.80" font-size="17">Y</text>
<text x="201.60" y="16.80" font-size="18">≡</text>
<text x="216.40" y="16.80" font-size="17" font-style="italic">n</text>
<text x="227.90" y="20.30" font-size="14" font-style="italic">χ</text>
<text x="233.30" y="16.80" font-size="17" font-style="italic">T</text>
<text x="245.00" y="10.10" font-size="12.5">−</text>
<text x="252.90" y="10.10" font-size="12.5">3</text>
<text x="58.00" y="134.90" font-size="18.8" font-style="italic">Y</text>
<text x="68.50" y="137.60" font-size="12.8">eq</text>
<text x="196.30" y="184.00" font-size="13.3" text-anchor="middle">Large</text>
<g transform="translate(183.80,200.00)">
<path d="M3.6,-8.5 L0.7,-3.25 L3.6,2" fill="none" stroke="#000" stroke-width="0.8"/>
<path d="M20.9,-8.5 L23.95,-3.25 L20.9,2" fill="none" stroke="#000" stroke-width="0.8"/>
<ellipse cx="6.95" cy="-2.7" rx="2.45" ry="2.4" transform="skewX(-14)" fill="none" stroke="#000" stroke-width="0.9"/>
<path d="M8.3,-5.3 H14.3" fill="none" stroke="#000" stroke-width="1.05" stroke-linecap="round"/>
<text x="13.6" y="0" font-size="12.5">v</text>
</g>
<text x="193.30" y="263.00" font-size="13.3" text-anchor="middle">Small</text>
<g transform="translate(180.60,279.40)">
<path d="M3.6,-8.5 L0.7,-3.25 L3.6,2" fill="none" stroke="#000" stroke-width="0.8"/>
<path d="M20.9,-8.5 L23.95,-3.25 L20.9,2" fill="none" stroke="#000" stroke-width="0.8"/>
<ellipse cx="6.95" cy="-2.7" rx="2.45" ry="2.4" transform="skewX(-14)" fill="none" stroke="#000" stroke-width="0.9"/>
<path d="M8.3,-5.3 H14.3" fill="none" stroke="#000" stroke-width="1.05" stroke-linecap="round"/>
<text x="13.6" y="0" font-size="12.5">v</text>
</g>
<text x="42.60" y="352.10" font-size="18.3">T=<tspan font-style="italic">m</tspan></text>
<text x="78.50" y="354.30" font-size="14" font-style="italic">χ</text>
<text x="176.90" y="353.40" font-size="18.3">T=<tspan font-style="italic">T</tspan></text>
<text x="208.50" y="356.90" font-size="12.6" font-style="italic">b</text>
<text x="230.10" y="353.40" font-size="18.3">T=<tspan font-style="italic">T</tspan></text>
<text x="261.70" y="356.90" font-size="12.6" font-style="italic">b</text>
<text x="358.90" y="352.10" font-size="18.3">T=<tspan font-style="italic">m</tspan></text>
<text x="394.80" y="354.30" font-size="14" font-style="italic">χ</text>
<text x="583.60" y="340.30" font-size="19" font-style="italic">t</text>
<text x="60.00" y="379.60" font-size="14">Pre<tspan dx="0.55">−</tspan><tspan dx="0.55">bounce contraction</tspan></text>
<text x="250.60" y="379.60" font-size="14">Post<tspan dx="0.55">−</tspan><tspan dx="0.55">bounce expansion</tspan></text>
<text x="458.00" y="379.60" font-size="14">Freezing<tspan dx="0.5">−</tspan><tspan dx="0.5">out</tspan></text>
<text x="437.50" y="127.00" font-size="14">Thermal Production</text>
<text x="480.40" y="237.00" font-size="14">Out of</text>
<text x="432.50" y="253.10" font-size="14">Equilibrium Production</text>
<text x="475.80" y="284.30" font-size="13.4" font-style="italic">Y</text>
<text x="483.90" y="287.00" font-size="9.0" font-style="italic">f</text>
<path d="M496.60,278.90 C493.83,278.90 492.95,284.40 491.12,284.40 C489.88,284.40 489.30,283.19 489.30,281.65 C489.30,280.11 489.88,278.90 491.12,278.90 C492.95,278.90 493.83,284.40 496.60,284.40" fill="none" stroke="#000" stroke-width="0.75"/>
<g transform="translate(497.70,284.30)">
<path d="M3.6,-8.5 L0.7,-3.25 L3.6,2" fill="none" stroke="#000" stroke-width="0.8"/>
<path d="M20.9,-8.5 L23.95,-3.25 L20.9,2" fill="none" stroke="#000" stroke-width="0.8"/>
<ellipse cx="6.95" cy="-2.7" rx="2.45" ry="2.4" transform="skewX(-14)" fill="none" stroke="#000" stroke-width="0.9"/>
<path d="M8.3,-5.3 H14.3" fill="none" stroke="#000" stroke-width="1.05" stroke-linecap="round"/>
<text x="13.6" y="0" font-size="12.5">v</text>
</g>
<text x="474.10" y="159.70" font-size="13.2" font-style="italic">Y</text>
<text x="482.40" y="162.40" font-size="9.0" font-style="italic">f</text>
<path d="M495.10,154.30 C492.44,154.30 491.60,159.80 489.85,159.80 C488.66,159.80 488.10,158.59 488.10,157.05 C488.10,155.51 488.66,154.30 489.85,154.30 C491.60,154.30 492.44,159.80 495.10,159.80" fill="none" stroke="#000" stroke-width="0.75"/>
<line x1="497" y1="156.6" x2="523" y2="156.6" stroke="#000" stroke-width="0.8"/>
<text x="510.00" y="149.60" font-size="12.2" text-anchor="middle">1</text>
<g transform="translate(497.60,170.00)">
<path d="M3.6,-8.5 L0.7,-3.25 L3.6,2" fill="none" stroke="#000" stroke-width="0.8"/>
<path d="M20.9,-8.5 L23.95,-3.25 L20.9,2" fill="none" stroke="#000" stroke-width="0.8"/>
<ellipse cx="6.95" cy="-2.7" rx="2.45" ry="2.4" transform="skewX(-14)" fill="none" stroke="#000" stroke-width="0.9"/>
<path d="M8.3,-5.3 H14.3" fill="none" stroke="#000" stroke-width="1.05" stroke-linecap="round"/>
<text x="13.6" y="0" font-size="12.3">v</text>
</g>
</g>
</svg>
</body></html>
